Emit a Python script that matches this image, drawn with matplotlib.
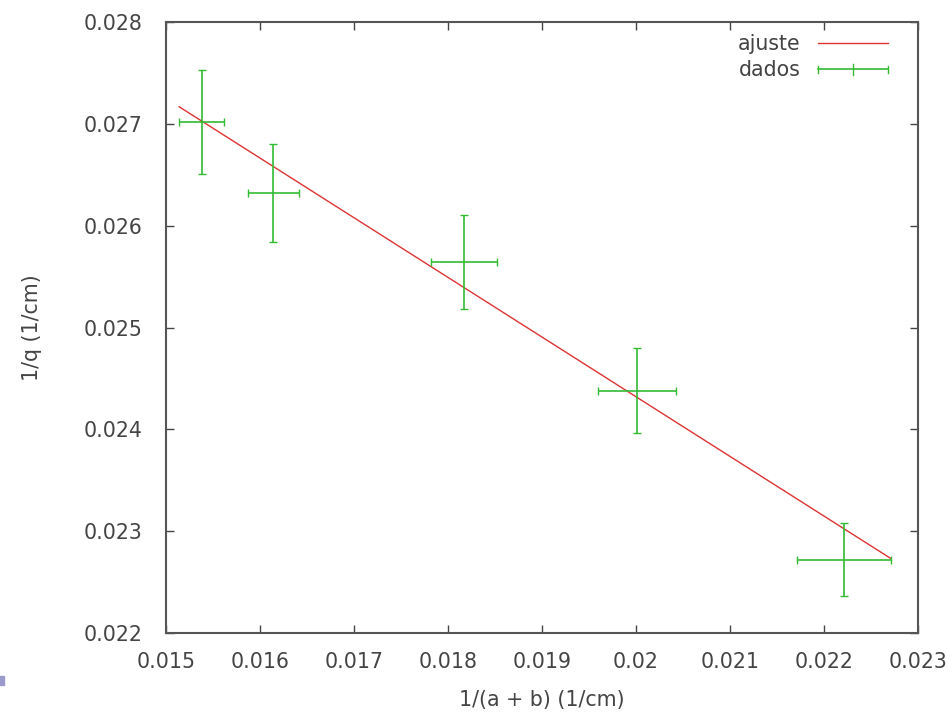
import numpy as np
import matplotlib
matplotlib.use("Agg")
import matplotlib.pyplot as plt
from matplotlib.patches import Rectangle
from matplotlib.lines import Line2D
from matplotlib.legend_handler import HandlerBase

# data
x = [0.01538, 0.01614, 0.01817, 0.02001, 0.02221]
y = [0.02702, 0.02632, 0.02564, 0.02438, 0.02272]
xerr = [0.00024, 0.00027, 0.00035, 0.00041, 0.00050]
yerr = [0.00051, 0.00048, 0.00046, 0.00042, 0.00036]

# fitted line (ajuste)
slope = -0.586
intercept = 0.03604

xticks = [0.015, 0.016, 0.017, 0.018, 0.019, 0.02, 0.021, 0.022, 0.023]
yticks = [0.022, 0.023, 0.024, 0.025, 0.026, 0.027, 0.028]

text_col = "#444444"
green = "#33bb33"
red = "#dd3333"
fs = 14.8
plt.rcParams["font.family"] = ["DejaVu Sans"]


# gnuplot style key sample for errorbars: line with end caps and middle tick
class HandlerGnuErr(HandlerBase):
    def create_artists(self, legend, orig_handle, xdescent, ydescent,
                       width, height, fontsize, trans):
        yc = height / 2 - ydescent
        x0, x1 = -xdescent, width - xdescent
        xm = (x0 + x1) / 2
        arts = [Line2D([x0, x1], [yc, yc], color=green, lw=1.2)]
        for xx, h in ((x0, 2.5), (x1, 2.5), (xm, 4)):
            arts.append(Line2D([xx, xx], [yc - h, yc + h], color=green, lw=1.0))
        for a in arts:
            a.set_transform(trans)
        return arts


fig = plt.figure(figsize=(9.48, 7.15), dpi=100)
ax = fig.add_axes([0.1751, 0.1147, 0.7933, 0.8545])

# fit line spans data range including error bars
xa = np.array(x)
xe = np.array(xerr)
xf = np.array([(xa - xe).min(), (xa + xe).max()])
fit_line, = ax.plot(xf, slope * xf + intercept, color=red, lw=1.0)

err = ax.errorbar(x, y, xerr=xerr, yerr=yerr, fmt="none", ecolor=green,
                  elinewidth=1.2, capsize=3, capthick=1.0)

ax.set_xlim(0.015, 0.023)
ax.set_ylim(0.022, 0.028)
ax.set_xticks(xticks)
ax.set_yticks(yticks)
ax.set_xticklabels([("%g" % v) for v in xticks])
ax.set_yticklabels([("%g" % v) for v in yticks])
ax.tick_params(direction="in", top=True, right=True, length=6, width=1,
               color="#444444", labelsize=fs, labelcolor=text_col)
ax.tick_params(axis="x", pad=13.5)
ax.tick_params(axis="y", pad=17)
for s in ax.spines.values():
    s.set_color("#555555")
    s.set_linewidth(1.5)

ax.set_xlabel("1/(a + b) (1/cm)", fontsize=fs, color=text_col)
ax.set_ylabel("1/q (1/cm)", fontsize=fs, color=text_col)
ax.xaxis.set_label_coords(0.5, -0.093)
ax.yaxis.set_label_coords(-0.165, 0.5)

leg = ax.legend([fit_line, err], ["ajuste", "dados"],
                handler_map={type(err): HandlerGnuErr()},
                loc="upper right", frameon=False, markerfirst=False,
                fontsize=fs, handlelength=3.4, handletextpad=0.85,
                borderpad=0, borderaxespad=0, labelspacing=0.3,
                bbox_to_anchor=(0.9601, 0.980))
for t in leg.get_texts():
    t.set_color(text_col)

# small artifact square at bottom-left edge
fig.patches.append(Rectangle((0, 1 - 685 / 715), 4 / 948, 9 / 715,
                             transform=fig.transFigure, color="#9a9acc"))

fig.savefig("out.png", dpi=100)
